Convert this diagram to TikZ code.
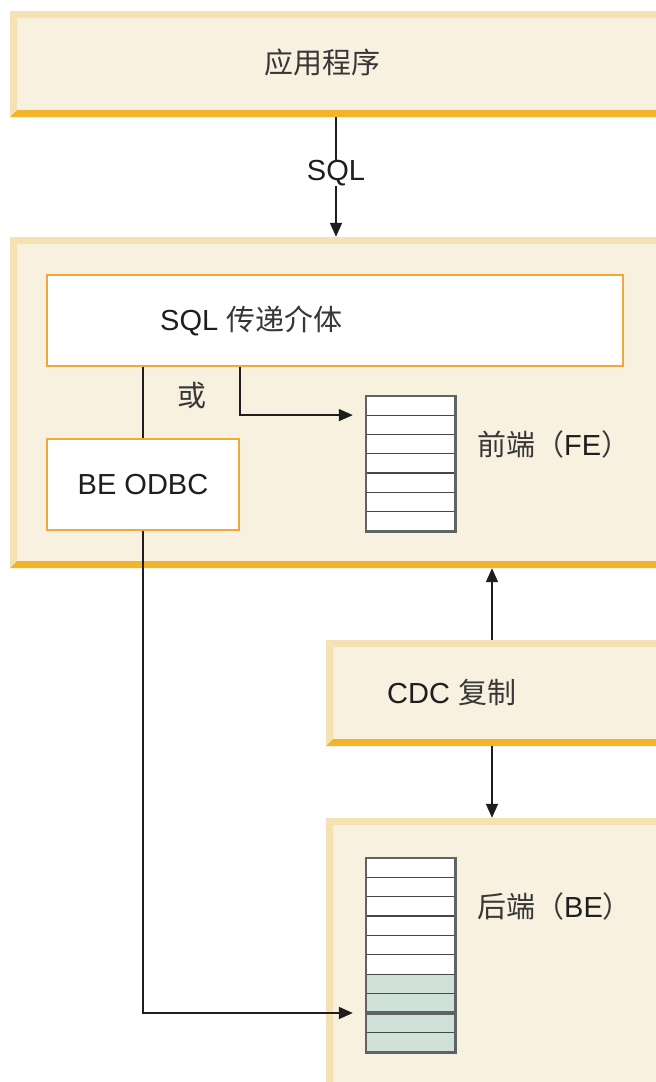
\documentclass[tikz,border=0pt]{standalone}
\usepackage{fontspec}
\setmainfont{Liberation Sans}
\newfontfamily\cjkf{Noto Sans CJK SC}
\usetikzlibrary{arrows.meta,calc}
\definecolor{cream}{RGB}{248,241,223}
\definecolor{bevlight}{RGB}{245,226,178}
\definecolor{bevorange}{RGB}{243,180,43}
\definecolor{innerorange}{RGB}{245,165,58}
\definecolor{tabgreen}{RGB}{207,225,216}
\definecolor{tabgray}{RGB}{95,100,98}
\definecolor{rowgray}{RGB}{70,72,72}
\definecolor{ink}{RGB}{30,30,30}
\definecolor{cjkgray}{RGB}{55,55,55}
\newcommand\cj[1]{{\cjkf\color{cjkgray}#1}}
\tikzset{
  bevelbox/.style={rectangle, inner sep=0pt, fill=cream, path picture={
    \fill[bevlight] (path picture bounding box.north west) -- (path picture bounding box.north east)
       -- ([yshift=-7pt]path picture bounding box.north east)
       -- ([shift={(7pt,-7pt)}]path picture bounding box.north west) -- cycle;
    \fill[bevlight] (path picture bounding box.north west)
       -- ([shift={(7pt,-7pt)}]path picture bounding box.north west)
       -- ([shift={(7pt,7pt)}]path picture bounding box.south west)
       -- (path picture bounding box.south west) -- cycle;
    \fill[bevorange] (path picture bounding box.south west)
       -- ([shift={(7pt,7pt)}]path picture bounding box.south west)
       -- ([yshift=7pt]path picture bounding box.south east)
       -- (path picture bounding box.south east) -- cycle;
  }},
  innerbox/.style={rectangle, inner sep=0pt, fill=white, draw=innerorange, line width=1.8pt},
  tablebox/.style={rectangle, inner sep=0pt, fill=white},
  tabborder/.style={draw=tabgray, line width=2.6pt},
  rowline/.style={draw=rowgray, line width=1.1pt},
  txt/.style={inner sep=0pt, font=\fontsize{29}{33}\selectfont, text=ink},
  conn/.style={draw=ink, line width=1.8pt},
  arr/.style={conn, -{Triangle[length=14pt,width=12pt]}},
}
\begin{document}
\begin{tikzpicture}[x=1pt,y=-1pt]
\useasboundingbox (0,0) rectangle (656,1082);
\fill[white] (0,0) rectangle (656,1082);
\clip (0,0) rectangle (656,1082);

% large boxes
\node[bevelbox, minimum width=660pt, minimum height=106pt] (app) at (340,64) {};
\node[bevelbox, minimum width=660pt, minimum height=331pt] (mid) at (340,402.5) {};
\node[bevelbox, minimum width=332pt, minimum height=106pt] (cdc) at (492,693) {};
\node[bevelbox, minimum width=332pt, minimum height=282pt] (be) at (492,959) {};

% inner boxes
\node[innerbox, minimum width=576pt, minimum height=91pt] (sqlbox) at (335,320.5) {};
\node[innerbox, minimum width=192pt, minimum height=91pt] (beodbc) at (143,484.5) {};

% FE table
\node[tablebox, minimum width=89pt, minimum height=135pt] (fetab) at (410.5,463.5) {};
\foreach \i in {1,...,6}
  \draw[rowline] ([yshift=-\i*19.286pt]fetab.north west) -- ([yshift=-\i*19.286pt]fetab.north east);
\draw[tabborder] (fetab.north west) rectangle (fetab.south east);

% BE table
\node[tablebox, minimum width=89pt, minimum height=194pt] (betab) at (410.5,955) {};
\fill[tabgreen] ([yshift=-6*19.4pt]betab.north west) rectangle (betab.south east);
\foreach \i in {1,...,7,9}
  \draw[rowline] ([yshift=-\i*19.4pt]betab.north west) -- ([yshift=-\i*19.4pt]betab.north east);
\draw[draw=tabgray, line width=3.2pt] ([yshift=-8*19.4pt]betab.north west) -- ([yshift=-8*19.4pt]betab.north east);
\draw[tabborder] (betab.north west) rectangle (betab.south east);

% texts
\node[txt] (appt) at (322,62) {\cj{应用程序}};
\node[txt, anchor=base west] (sqlt) at (160,330) {SQL \cj{传递介体}};
\node[txt] (ort) at (192,396) {\cj{或}};
\node[txt, anchor=base west] (fet) at (477,455) {\cj{前端（}FE\cj{）}};
\node[txt, anchor=base] (beodt) at (143,494) {BE ODBC};
\node[txt, anchor=base west] (cdct) at (387,703) {CDC \cj{复制}};
\node[txt, anchor=base west] (bet) at (477,917) {\cj{后端（}BE\cj{）}};

% connectors
\coordinate (sqlx) at (336,0);
\draw[arr] (app.south -| sqlx) -- node[pos=0.47, fill=white, inner xsep=2pt, inner ysep=9pt, txt] (sqllbl) {SQL} (mid.north -| sqlx);
\draw[arr, shorten >=13pt] (sqlbox.south -| beodbc.east) |- ([yshift=-19.286pt]fetab.north west);
\draw[conn] (sqlbox.south -| beodbc.north) -- (beodbc.north);
\draw[arr, shorten >=13pt] (beodbc.south) |- ([yshift=-8*19.4pt]betab.north west);
\draw[arr] (cdc.north) -- (mid.south -| cdc.north);
\draw[arr] (cdc.south) -- (be.north);
\end{tikzpicture}
\end{document}
